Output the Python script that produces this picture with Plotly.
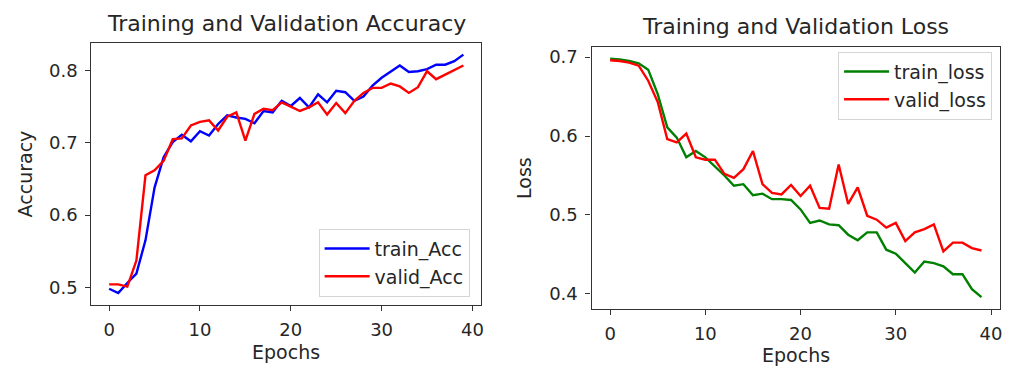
import plotly.graph_objects as go

epochs = list(range(40))

train_acc = [0.498, 0.492, 0.506, 0.519, 0.565, 0.638, 0.680, 0.701, 0.711, 0.702,
             0.716, 0.710, 0.726, 0.738, 0.735, 0.733, 0.727, 0.744, 0.742, 0.758,
             0.751, 0.762, 0.749, 0.767, 0.756, 0.772, 0.770, 0.758, 0.764, 0.779,
             0.790, 0.798, 0.807, 0.798, 0.799, 0.802, 0.808, 0.808, 0.813, 0.822]
valid_acc = [0.504, 0.504, 0.501, 0.537, 0.655, 0.662, 0.675, 0.705, 0.706, 0.724,
             0.729, 0.731, 0.717, 0.736, 0.742, 0.703, 0.740, 0.747, 0.745, 0.756,
             0.750, 0.744, 0.749, 0.756, 0.739, 0.755, 0.741, 0.758, 0.769, 0.776,
             0.776, 0.782, 0.778, 0.769, 0.777, 0.799, 0.788, 0.794, 0.801, 0.807]
train_loss = [0.698, 0.697, 0.695, 0.692, 0.684, 0.653, 0.611, 0.598, 0.573, 0.581,
              0.573, 0.562, 0.550, 0.537, 0.539, 0.525, 0.527, 0.520, 0.520, 0.519,
              0.507, 0.490, 0.493, 0.488, 0.487, 0.475, 0.468, 0.478, 0.478, 0.456,
              0.451, 0.439, 0.427, 0.441, 0.439, 0.435, 0.425, 0.425, 0.406, 0.396]
valid_loss = [0.696, 0.695, 0.693, 0.689, 0.670, 0.643, 0.596, 0.592, 0.603, 0.573,
              0.570, 0.570, 0.552, 0.547, 0.558, 0.581, 0.539, 0.528, 0.526, 0.538,
              0.524, 0.537, 0.509, 0.508, 0.564, 0.514, 0.535, 0.499, 0.494, 0.484,
              0.490, 0.467, 0.478, 0.482, 0.488, 0.454, 0.465, 0.465, 0.458, 0.455]

acc_ticks = [0.5, 0.6, 0.7, 0.8]
loss_ticks = [0.4, 0.5, 0.6, 0.7]
epoch_ticks = [0, 10, 20, 30, 40]

W, H = 1018, 367
FONT = "DejaVu Sans"
TXT = "#262626"
AX = "#333333"


def pr(lo, hi):
    m = (hi - lo) * 0.05
    return [lo - m, hi + m]


fig = go.Figure()
fig.add_trace(go.Scatter(x=epochs, y=train_acc, mode="lines", name="train_Acc",
                         line=dict(color="#0000ff", width=2.4), xaxis="x", yaxis="y", legend="legend"))
fig.add_trace(go.Scatter(x=epochs, y=valid_acc, mode="lines", name="valid_Acc",
                         line=dict(color="#ff0000", width=2.4), xaxis="x", yaxis="y", legend="legend"))
fig.add_trace(go.Scatter(x=epochs, y=train_loss, mode="lines", name="train_loss",
                         line=dict(color="#008000", width=2.4), xaxis="x2", yaxis="y2", legend="legend2"))
fig.add_trace(go.Scatter(x=epochs, y=valid_loss, mode="lines", name="valid_loss",
                         line=dict(color="#ff0000", width=2.4), xaxis="x2", yaxis="y2", legend="legend2"))

axis_common = dict(showline=True, mirror=True, linecolor=AX, linewidth=1.3,
                   ticks="outside", ticklen=5, tickwidth=1.3, tickcolor=AX,
                   showgrid=False, zeroline=False,
                   tickfont=dict(family=FONT, size=18, color=TXT))

xr = pr(min(epochs), max(epochs))
fig.update_layout(
    width=W, height=H,
    margin=dict(l=0, r=0, t=0, b=0),
    paper_bgcolor="white", plot_bgcolor="white",
    xaxis=dict(domain=[91.7 / W, 482.5 / W], range=xr, tickvals=epoch_ticks,
               anchor="y", ticklabelstandoff=3, **axis_common),
    yaxis=dict(domain=[1 - 305 / H, 1 - 42.7 / H],
               range=pr(min(train_acc + valid_acc), max(train_acc + valid_acc)),
               tickvals=acc_ticks, tickformat=".1f", anchor="x", ticklabelstandoff=4,
               **axis_common),
    xaxis2=dict(domain=[593.3 / W, 1003 / W], range=xr, tickvals=epoch_ticks,
                anchor="y2", ticklabelstandoff=3, **axis_common),
    yaxis2=dict(domain=[1 - 309 / H, 1 - 46.7 / H],
                range=pr(min(train_loss + valid_loss), max(train_loss + valid_loss)),
                tickvals=loss_ticks, tickformat=".1f", anchor="x2", ticklabelstandoff=4,
                **axis_common),
    legend=dict(x=471 / W, y=1 - 296.7 / H, xanchor="right", yanchor="bottom",
                bordercolor="#d5d5d5", borderwidth=1, bgcolor="rgba(255,255,255,0.85)",
                font=dict(family=FONT, size=19, color=TXT), itemwidth=45),
    legend2=dict(x=995 / W, y=1 - 51.7 / H, xanchor="right", yanchor="top",
                 bordercolor="#d5d5d5", borderwidth=1, bgcolor="rgba(255,255,255,0.85)",
                 font=dict(family=FONT, size=19, color=TXT), itemwidth=45),
    showlegend=True,
)

ann_font = dict(family=FONT, size=19, color=TXT)
title_font = dict(family=FONT, size=22, color=TXT)
annotations = [
    dict(text="Training and Validation Accuracy", x=287 / W, y=1 - 23 / H, font=title_font),
    dict(text="Training and Validation Loss", x=798 / W, y=1 - 26 / H, font=title_font),
    dict(text="Accuracy", x=25.5 / W, y=1 - 174 / H, textangle=-90, font=ann_font),
    dict(text="Loss", x=525.5 / W, y=1 - 178 / H, textangle=-90, font=ann_font),
    dict(text="Epochs", x=287 / W, y=1 - 352 / H, font=ann_font),
    dict(text="Epochs", x=798 / W, y=1 - 355 / H, font=ann_font),
]
for a in annotations:
    a.update(xref="paper", yref="paper", showarrow=False, xanchor="center", yanchor="middle")
fig.update_layout(annotations=annotations)

fig.write_html("out.html")
